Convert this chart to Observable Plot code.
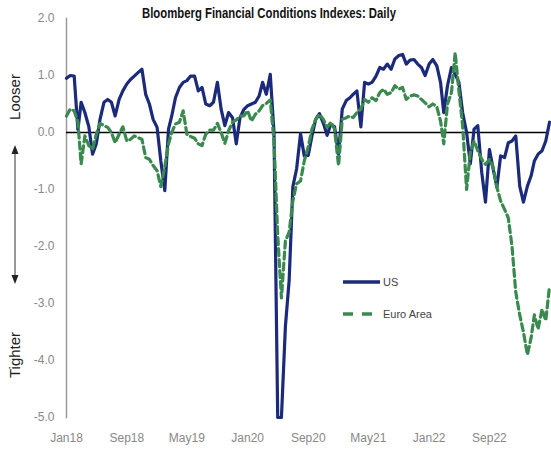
<!DOCTYPE html>
<html>
<head>
<meta charset="utf-8">
<script src="https://cdn.jsdelivr.net/npm/d3@7"></script>
<script src="https://cdn.jsdelivr.net/npm/@observablehq/plot@0.6"></script>
<style>
  body { margin: 0; background: #fff; }
  #wrap { position: relative; width: 551px; height: 451px; font-family: "Liberation Sans", sans-serif; }
  #title { position: absolute; left: 39px; width: 460px; top: 5px; text-align: center; font-weight: bold; font-size: 14px; color: #111; transform: scaleX(0.81); transform-origin: 230px 0; }
  #overlay { position: absolute; left: 0; top: 0; pointer-events: none; }
  #chart { position: absolute; left: 0; top: 0; }
</style>
</head>
<body>
<div id="wrap">
  <div id="chart"></div>
  <div id="title"></div>
  <svg id="overlay" width="551" height="451"></svg>
</div>
<script>
// ---- data (semi-monthly readings, Jan 2018 → May 2023) ----
const seriesNames = ["US", "Euro Area"];
const usValues = [
  0.95, 1.00, 0.99, 0.05, 0.53, 0.35, 0.10, -0.38, -0.20, 0.23,
  0.53, 0.58, 0.53, 0.29, 0.58, 0.73, 0.85, 0.93, 0.99, 1.05,
  1.11, 0.67, 0.50, 0.23, 0.09, -0.50, -1.02, 0.06, 0.29, 0.61,
  0.79, 0.88, 0.91, 0.99, 0.99, 0.73, 0.79, 0.50, 0.47, 0.53,
  0.88, 0.41, 0.12, 0.35, 0.26, -0.20, 0.26, 0.40, 0.47, 0.50,
  0.53, 0.64, 0.88, 0.67, 1.02, 0.00, -5.00, -5.00, -3.40, -2.60,
  -0.95, -0.64, -0.02, -0.41, -0.40, -0.06, 0.23, 0.33, 0.16, -0.05,
  0.15, 0.10, -0.38, 0.41, 0.56, 0.61, 0.67, 0.73, 0.10, 0.88,
  0.85, 0.88, 0.99, 1.14, 1.11, 1.20, 1.11, 1.29, 1.35, 1.37,
  1.20, 1.27, 1.28, 1.20, 1.14, 1.00, 1.20, 1.28, 1.17, 0.88,
  0.35, 0.82, 1.14, 1.02, 0.88, 0.35, 0.00, -0.55, 0.06, 0.12,
  -0.70, -1.22, -0.30, -0.64, -0.96, -0.41, -0.44, -0.18, -0.15, -0.06,
  -0.94, -1.22, -0.94, -0.76, -0.50, -0.38, -0.32, -0.15, 0.18
];
const euroValues = [
  0.29, 0.41, 0.38, 0.18, -0.55, -0.06, -0.23, -0.29, -0.03, 0.16,
  0.12, 0.09, 0.00, -0.18, -0.03, 0.10, -0.15, -0.12, -0.06, -0.09,
  -0.12, -0.44, -0.47, -0.58, -0.67, -0.95, -0.60, -0.20, 0.00, 0.15,
  0.18, 0.38, -0.03, -0.07, -0.10, -0.20, -0.23, -0.03, 0.04, 0.04,
  0.16, 0.00, -0.19, 0.03, 0.18, 0.22, 0.29, 0.29, 0.38, 0.20,
  0.32, 0.38, 0.47, 0.51, 0.57, -0.15, -1.80, -2.90, -1.90, -1.75,
  -1.20, -0.90, -0.85, -0.50, -0.25, 0.06, 0.23, 0.32, 0.23, 0.09,
  0.18, 0.06, -0.58, 0.23, 0.26, 0.29, 0.26, 0.35, 0.41, 0.58,
  0.53, 0.61, 0.56, 0.70, 0.76, 0.67, 0.70, 0.82, 0.76, 0.79,
  0.58, 0.64, 0.66, 0.64, 0.58, 0.52, 0.45, 0.50, 0.45, 0.20,
  -0.20, 0.50, 0.70, 1.40, 0.73, 0.12, -1.00, -0.35, -0.15, -0.32,
  -0.47, -0.56, -0.47, -0.61, -0.96, -1.20, -1.35, -1.50, -2.00, -2.80,
  -3.20, -3.50, -3.90, -3.60, -3.20, -3.45, -3.10, -3.30, -2.70
];
const xTickLabels = ["Jan18", "Sep18", "May19", "Jan20", "Sep20", "May21", "Jan22", "Sep22"];
const yTickValues = [2, 1, 0, -1, -2, -3, -4, -5];
const axisLabels = ["Looser", "Tighter"];
const titleText = "Bloomberg Financial Conditions Indexes: Daily";

// ---- build tables ----
const dateAt = i => new Date(Date.UTC(2018, Math.floor(i / 2), i % 2 ? 16 : 1));
const usData = usValues.map((v, i) => ({date: dateAt(i), value: v, series: seriesNames[0]}));
const euroData = euroValues.map((v, i) => ({date: dateAt(i), value: v, series: seriesNames[1]}));
const parseTick = d3.utcParse("%b%y");
const xTicks = xTickLabels.map(parseTick);

const navy = "#1b2a7a";
const green = "#3a8a50";
const font = '"Liberation Sans", sans-serif';

const chart = Plot.plot({
  width: 551,
  height: 451,
  marginLeft: 66,
  marginRight: 2,
  marginTop: 18,
  marginBottom: 34,
  style: {fontFamily: font, fontSize: "12px", background: "transparent", color: "#888"},
  x: {type: "utc", domain: [usData[0].date, usData[usData.length - 1].date]},
  y: {domain: [-5, 2]},
  marks: [
    Plot.frame({anchor: "left", stroke: "#9a9a9a", strokeWidth: 1.5}),
    Plot.axisY({ticks: yTickValues, tickFormat: d => d.toFixed(1), tickSize: 0, tickPadding: 12, label: null, fill: "#888"}),
    Plot.axisX({ticks: xTicks, tickFormat: d3.utcFormat("%b%y"), tickSize: 0, tickPadding: 16, label: null, fill: "#888"}),
    Plot.ruleY([0], {stroke: "#000", strokeWidth: 1.5}),
    Plot.lineY(usData, {x: "date", y: "value", stroke: navy, strokeWidth: 3.2, strokeLinejoin: "round"}),
    Plot.lineY(euroData, {x: "date", y: "value", stroke: green, strokeWidth: 3.2, strokeDasharray: "7,4"})
  ]
});
document.getElementById("chart").appendChild(chart);
document.getElementById("title").textContent = titleText;

// ---- annotations: Looser/Tighter arrow, legend ----
const ov = d3.select("#overlay");
ov.append("text").attr("transform", "translate(20,97) rotate(-90)").attr("text-anchor", "middle")
  .style("font-family", font).style("font-size", "15px").attr("fill", "#222").text(axisLabels[0]);
ov.append("text").attr("transform", "translate(20,355) rotate(-90)").attr("text-anchor", "middle")
  .style("font-family", font).style("font-size", "15px").attr("fill", "#222").text(axisLabels[1]);
ov.append("line").attr("x1", 15).attr("x2", 15).attr("y1", 152).attr("y2", 277).attr("stroke", "#333").attr("stroke-width", 1);
ov.append("path").attr("d", "M15,145 L11.5,154 L18.5,154 Z").attr("fill", "#222");
ov.append("path").attr("d", "M15,284 L11.5,275 L18.5,275 Z").attr("fill", "#222");

const leg = [{name: seriesNames[0], color: navy, dash: null, y: 282, x2: 380},
             {name: seriesNames[1], color: green, dash: "10,9", y: 314, x2: 372}];
for (const l of leg) {
  const ln = ov.append("line").attr("x1", 343).attr("x2", l.x2).attr("y1", l.y).attr("y2", l.y)
    .attr("stroke", l.color).attr("stroke-width", 3.5);
  if (l.dash) ln.attr("stroke-dasharray", l.dash);
  ov.append("text").attr("x", 383).attr("y", l.y).attr("dy", "0.35em")
    .style("font-family", font).style("font-size", "11px").attr("fill", "#444").text(l.name);
}
</script>
</body>
</html>
